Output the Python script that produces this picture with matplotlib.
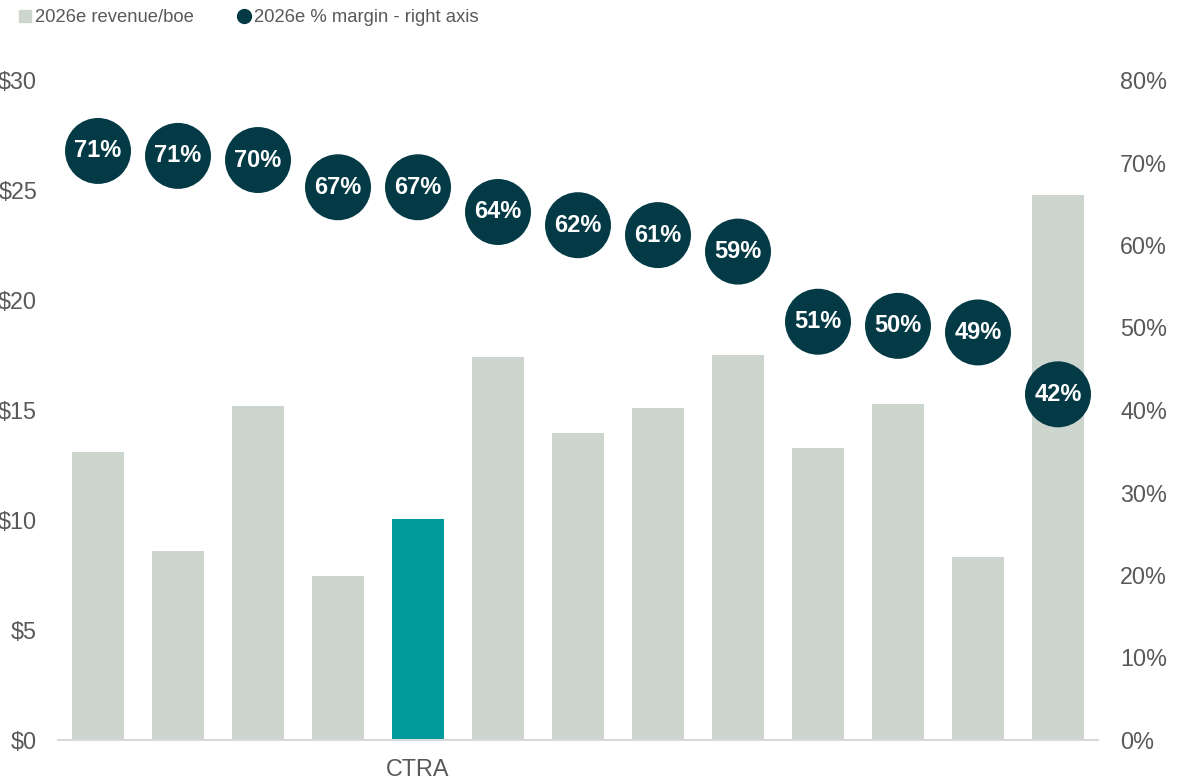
import matplotlib as mpl
mpl.use("Agg")
import matplotlib.pyplot as plt
from matplotlib.lines import Line2D
from matplotlib.ticker import FuncFormatter

mpl.rcParams["font.family"] = ["Liberation Sans", "DejaVu Sans"]

# ---- data ----
companies = ["", "", "", "", "CTRA", "", "", "", "", "", "", "", ""]
revenue_boe = [13.09, 8.59, 15.18, 7.45, 10.05, 17.41, 13.95, 15.09, 17.50, 13.27, 15.27, 8.32, 24.77]
margin_pct = [71.4, 70.8, 70.3, 67.0, 67.0, 64.0, 62.4, 61.2, 59.2, 50.7, 50.2, 49.4, 41.9]
highlight = "CTRA"

# ---- style ----
BAR_COLOR = "#CDD5CF"
HIGHLIGHT_COLOR = "#009A9C"
DOT_COLOR = "#033A45"
TEXT_COLOR = "#595959"
AXIS_COLOR = "#D9D9D9"
FONT_TICK = 16.8
FONT_DOT = 17
FONT_LEGEND = 13.3

W, H = 1178, 779
fig = plt.figure(figsize=(W / 100, H / 100), dpi=100)
ax = fig.add_axes([58 / W, 39 / H, 1040 / W, 660 / H])

x = list(range(len(companies)))
colors = [HIGHLIGHT_COLOR if c == highlight else BAR_COLOR for c in companies]
ax.bar(x, revenue_boe, width=0.66, color=colors, zorder=2)

ax.set_xlim(-0.5, len(companies) - 0.5)
ax.set_ylim(0, 30)
ax.set_yticks(range(0, 31, 5))
ax.yaxis.set_major_formatter(FuncFormatter(lambda v, p: f"${v:.0f}"))
ax.set_xticks(x)
ax.set_xticklabels(companies)
ax.tick_params(axis="y", length=0, pad=15, labelsize=FONT_TICK, labelcolor=TEXT_COLOR)
ax.tick_params(axis="x", length=0, pad=13, labelsize=FONT_TICK, labelcolor=TEXT_COLOR)
for s in ["top", "right", "left"]:
    ax.spines[s].set_visible(False)
ax.spines["bottom"].set_color(AXIS_COLOR)
ax.spines["bottom"].set_linewidth(1.5)

ax2 = ax.twinx()
ax2.set_ylim(0, 80)
ax2.set_yticks(range(0, 81, 10))
ax2.yaxis.set_major_formatter(FuncFormatter(lambda v, p: f"{v:.0f}%"))
ax2.tick_params(axis="y", length=0, pad=16, labelsize=FONT_TICK, labelcolor=TEXT_COLOR)
for s in ax2.spines.values():
    s.set_visible(False)

ax2.scatter(x, margin_pct, s=47.5 ** 2, color=DOT_COLOR, edgecolors="none", zorder=3, clip_on=False)
for xi, m in zip(x, margin_pct):
    ax2.text(xi, m, f"{m:.0f}%", ha="center", va="center", color="white",
             fontsize=FONT_DOT, fontweight="bold", zorder=4)

handles = [
    Line2D([], [], marker="s", linestyle="none", color=BAR_COLOR, markersize=9),
    Line2D([], [], marker="o", linestyle="none", color=DOT_COLOR, markersize=10),
]
fig.legend(handles, ["2026e revenue/boe", "2026e % margin - right axis"],
           loc="upper left", bbox_to_anchor=(10 / W, 1 - 2 / H), ncol=2, frameon=False,
           fontsize=FONT_LEGEND, labelcolor=TEXT_COLOR, handlelength=0.8,
           handletextpad=0.15, columnspacing=2.3, borderaxespad=0)

fig.savefig("out.png", dpi=100)
